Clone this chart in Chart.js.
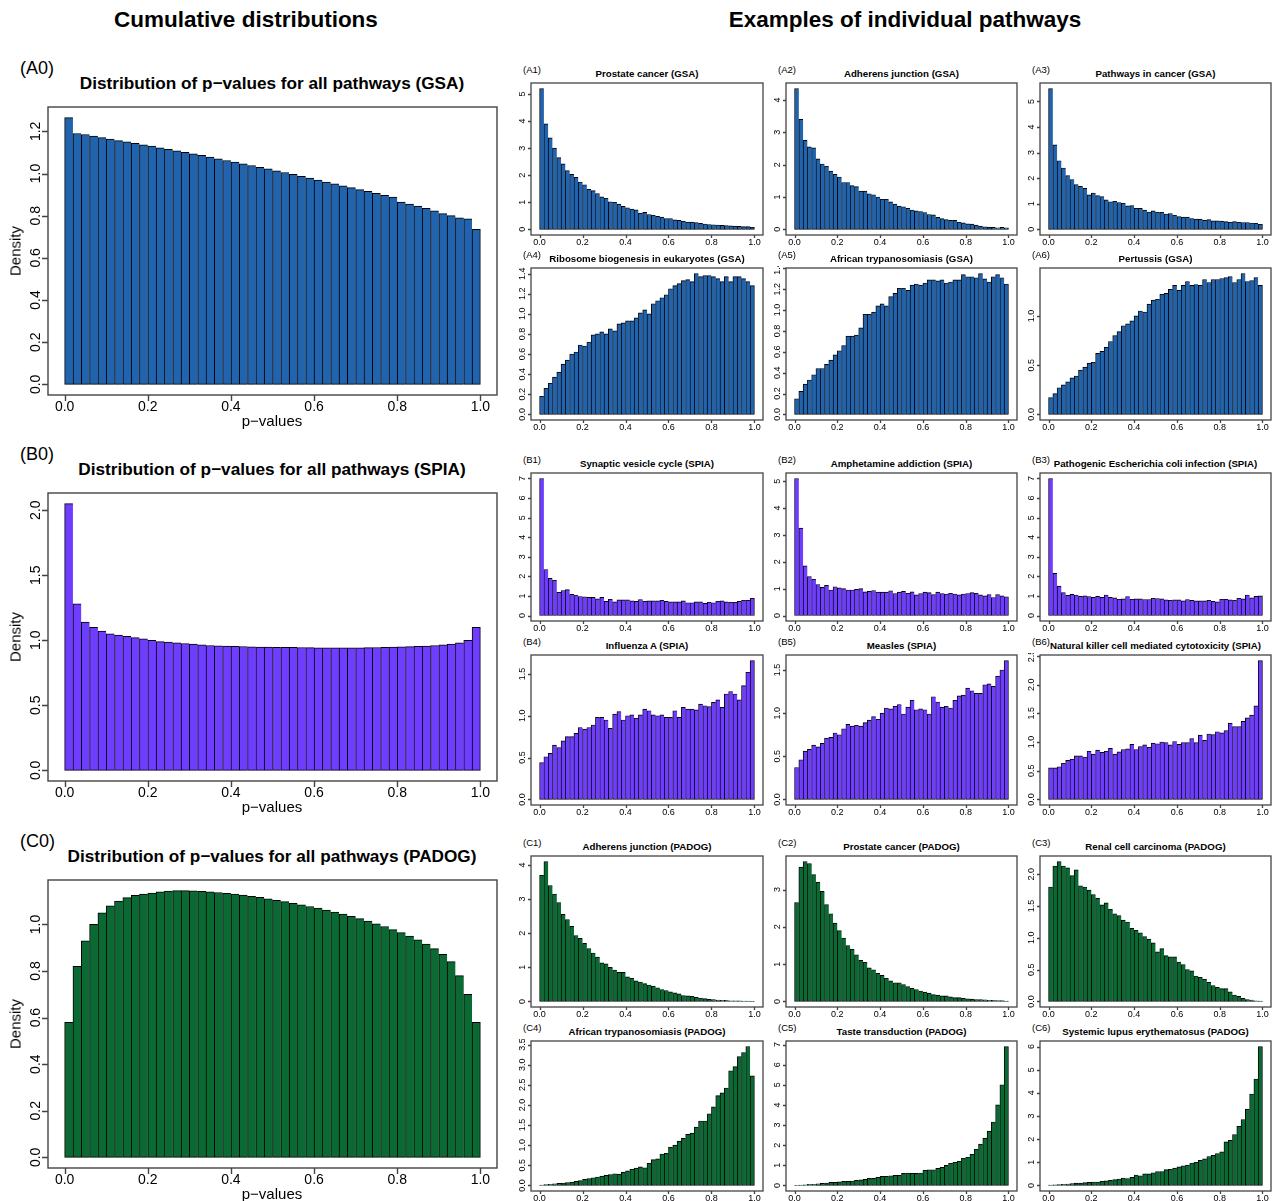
<!DOCTYPE html>
<html>
<head>
<meta charset="utf-8">
<script src="https://cdn.jsdelivr.net/npm/chart.js@4.4.1/dist/chart.umd.min.js"></script>
<style>
  body { margin: 0; background: #fff; width: 1273px; height: 1201px; position: relative; overflow: hidden;
         font-family: "Liberation Sans", Arial, Helvetica, sans-serif; }
  .t { position: absolute; white-space: nowrap; color: #000; transform: translate(-50%, -50%); }
  .b { font-weight: bold; }
  .l { position: absolute; white-space: nowrap; color: #000; transform: translateY(-50%); }
  .rot { transform: translate(-50%, -50%) rotate(-90deg); }
  canvas { position: absolute; }
</style>
</head>
<body>
<script>
// histogram bins (p-value bin mid points, width 0.02)
const binMids = [0.01,0.03,0.05,0.07,0.09,0.11,0.13,0.15,0.17,0.19,0.21,0.23,0.25,0.27,0.29,0.31,0.33,0.35,0.37,0.39,
                 0.41,0.43,0.45,0.47,0.49,0.51,0.53,0.55,0.57,0.59,0.61,0.63,0.65,0.67,0.69,0.71,0.73,0.75,0.77,0.79,
                 0.81,0.83,0.85,0.87,0.89,0.91,0.93,0.95,0.97,0.99];
const xTicks = [0, 0.2, 0.4, 0.6, 0.8, 1.0];

// cumulative distributions
const gsaAll = [1.265,1.19,1.185,1.178,1.17,1.163,1.156,1.15,1.143,1.136,
  1.13,1.122,1.115,1.108,1.1,1.093,1.086,1.078,1.07,1.062,
  1.054,1.046,1.038,1.03,1.022,1.013,1.005,0.996,0.987,0.978,
  0.969,0.96,0.951,0.942,0.933,0.924,0.915,0.906,0.897,0.888,
  0.865,0.855,0.845,0.835,0.823,0.81,0.8,0.79,0.785,0.735];
const spiaAll = [2.05,1.28,1.14,1.1,1.07,1.05,1.04,1.03,1.02,1.01,
  1.0,0.99,0.985,0.98,0.975,0.97,0.965,0.96,0.958,0.955,
  0.953,0.952,0.95,0.948,0.947,0.946,0.945,0.945,0.944,0.943,
  0.942,0.942,0.941,0.941,0.941,0.942,0.943,0.944,0.945,0.947,
  0.949,0.951,0.953,0.956,0.96,0.965,0.97,0.98,1.0,1.1];
const padogAll = [0.58,0.82,0.93,1.0,1.05,1.08,1.1,1.115,1.125,1.13,
  1.135,1.14,1.143,1.145,1.145,1.144,1.142,1.14,1.137,1.134,
  1.13,1.126,1.121,1.116,1.11,1.104,1.098,1.091,1.084,1.077,
  1.07,1.062,1.053,1.044,1.035,1.025,1.014,1.003,0.991,0.978,
  0.965,0.95,0.934,0.916,0.896,0.872,0.84,0.78,0.7,0.58];

// individual pathways, GSA
const gsaProstate = [5.2,3.9,3.38,3.0,2.65,2.42,2.17,2.03,1.92,1.75,
  1.65,1.48,1.43,1.32,1.2,1.15,1.02,1.0,0.93,0.85,
  0.8,0.75,0.72,0.6,0.63,0.55,0.52,0.48,0.45,0.4,
  0.4,0.35,0.33,0.3,0.27,0.27,0.25,0.22,0.2,0.18,
  0.17,0.16,0.15,0.14,0.13,0.12,0.11,0.1,0.1,0.08];
const gsaAdherens = [4.35,3.4,2.75,2.55,2.52,2.18,2.02,1.95,1.8,1.7,
  1.62,1.45,1.45,1.35,1.32,1.18,1.18,1.1,1.07,1.0,
  0.93,0.93,0.85,0.78,0.72,0.7,0.65,0.6,0.57,0.55,
  0.52,0.46,0.45,0.37,0.33,0.3,0.28,0.28,0.22,0.2,
  0.17,0.16,0.13,0.1,0.08,0.07,0.06,0.05,0.06,0.05];
const gsaPathways = [5.5,3.3,2.68,2.4,2.1,1.95,1.75,1.68,1.6,1.35,
  1.42,1.32,1.28,1.15,1.08,1.1,1.05,1.02,0.92,0.93,
  0.82,0.82,0.75,0.68,0.72,0.67,0.67,0.6,0.62,0.55,
  0.5,0.48,0.48,0.42,0.4,0.4,0.35,0.38,0.33,0.33,
  0.32,0.3,0.28,0.3,0.28,0.27,0.27,0.25,0.24,0.2];
const gsaRibosome = [0.18,0.26,0.31,0.37,0.42,0.5,0.54,0.6,0.62,0.69,
  0.68,0.72,0.79,0.8,0.82,0.8,0.85,0.83,0.9,0.91,
  0.93,0.93,0.96,1.01,1.04,1.0,1.1,1.13,1.16,1.19,
  1.25,1.28,1.3,1.33,1.34,1.32,1.4,1.37,1.38,1.38,
  1.37,1.35,1.32,1.37,1.32,1.37,1.37,1.35,1.32,1.28];
const gsaAfrican = [0.15,0.22,0.29,0.33,0.38,0.44,0.44,0.48,0.52,0.57,
  0.61,0.66,0.75,0.75,0.76,0.83,0.96,0.96,0.98,1.04,
  1.06,1.04,1.13,1.16,1.21,1.21,1.19,1.24,1.25,1.24,
  1.26,1.29,1.29,1.28,1.29,1.26,1.27,1.29,1.29,1.34,
  1.32,1.32,1.31,1.35,1.3,1.27,1.32,1.34,1.31,1.25];
const gsaPertussis = [0.17,0.21,0.27,0.3,0.33,0.37,0.39,0.45,0.48,0.52,
  0.53,0.62,0.64,0.68,0.74,0.8,0.84,0.9,0.92,0.95,
  1.0,1.05,1.04,1.12,1.16,1.17,1.22,1.23,1.27,1.31,
  1.26,1.31,1.35,1.31,1.32,1.31,1.37,1.34,1.37,1.37,
  1.38,1.39,1.4,1.34,1.37,1.43,1.35,1.36,1.39,1.31];

// individual pathways, SPIA
const spiaSynaptic = [7.0,2.35,1.9,1.8,1.18,1.28,1.32,1.08,1.05,0.97,
  0.96,0.93,0.93,0.85,0.93,0.72,0.83,0.7,0.8,0.8,
  0.8,0.75,0.72,0.82,0.73,0.75,0.75,0.75,0.78,0.72,
  0.7,0.7,0.7,0.75,0.65,0.65,0.7,0.7,0.62,0.68,
  0.65,0.73,0.75,0.7,0.68,0.68,0.72,0.78,0.78,0.88];
const spiaAmphetamine = [5.1,3.25,1.85,1.45,1.35,1.15,1.05,1.12,0.95,1.07,
  1.03,1.0,0.95,0.95,0.97,1.0,0.88,0.9,0.93,0.87,
  0.87,0.87,0.92,0.82,0.87,0.9,0.83,0.88,0.77,0.82,
  0.87,0.85,0.78,0.87,0.82,0.8,0.83,0.8,0.77,0.8,
  0.82,0.85,0.83,0.77,0.73,0.78,0.67,0.78,0.73,0.7];
const spiaEcoli = [7.0,2.15,1.5,1.17,1.03,1.08,1.05,0.98,1.0,0.97,
  0.93,0.98,0.93,1.05,0.93,0.9,0.83,0.85,0.97,0.83,
  0.85,0.85,0.82,0.82,0.88,0.87,0.85,0.8,0.78,0.8,
  0.8,0.75,0.82,0.77,0.75,0.75,0.75,0.78,0.72,0.7,
  0.83,0.83,0.8,0.78,0.88,0.85,1.05,0.9,0.98,1.0];
const spiaInfluenza = [0.44,0.51,0.55,0.65,0.62,0.7,0.75,0.75,0.79,0.86,
  0.84,0.86,0.89,0.98,0.98,0.95,0.85,1.02,1.05,0.95,
  1.0,1.01,0.97,1.01,1.08,1.06,1.01,1.0,1.01,0.98,
  0.98,1.06,0.98,1.1,1.08,1.08,1.07,1.14,1.12,1.11,
  1.16,1.19,1.1,1.26,1.29,1.26,1.19,1.36,1.52,1.66];
const spiaMeasles = [0.37,0.46,0.56,0.58,0.63,0.61,0.65,0.71,0.72,0.77,
  0.75,0.82,0.87,0.85,0.86,0.85,0.89,0.92,0.96,0.93,
  1.0,1.06,1.05,1.08,1.1,0.99,1.07,1.15,1.04,1.05,
  1.04,0.99,1.19,1.13,1.07,1.08,1.06,1.15,1.2,1.21,
  1.29,1.26,1.23,1.23,1.33,1.34,1.31,1.43,1.5,1.61];
const spiaNK = [0.55,0.55,0.57,0.63,0.68,0.7,0.76,0.76,0.74,0.84,
  0.79,0.86,0.82,0.84,0.89,0.79,0.83,0.87,0.88,0.96,
  0.87,0.92,0.95,0.91,0.98,0.97,1.0,0.99,0.95,1.01,
  0.96,0.99,0.99,1.06,0.99,1.12,1.03,1.14,1.13,1.18,
  1.16,1.2,1.33,1.27,1.27,1.36,1.42,1.47,1.63,2.42];

// individual pathways, PADOG
const padogAdherens = [3.7,4.1,3.4,3.15,2.9,2.55,2.4,2.2,1.93,1.85,
  1.7,1.55,1.42,1.3,1.13,1.1,1.0,0.92,0.85,0.85,
  0.72,0.68,0.6,0.57,0.52,0.48,0.45,0.4,0.35,0.32,
  0.28,0.25,0.22,0.17,0.16,0.15,0.12,0.1,0.08,0.06,
  0.05,0.04,0.03,0.03,0.02,0.02,0.015,0.01,0.01,0.005];
const padogProstate = [2.65,3.6,3.75,3.7,3.4,3.2,2.95,2.6,2.35,2.1,
  1.9,1.7,1.5,1.4,1.25,1.1,1.05,0.9,0.85,0.75,
  0.7,0.62,0.55,0.5,0.5,0.45,0.4,0.35,0.32,0.28,
  0.25,0.22,0.18,0.17,0.15,0.15,0.12,0.1,0.1,0.08,
  0.07,0.06,0.05,0.05,0.04,0.03,0.03,0.02,0.02,0.01];
const padogRenal = [1.8,2.13,2.2,2.13,2.1,1.98,2.07,1.82,1.8,1.75,
  1.68,1.62,1.52,1.55,1.45,1.38,1.35,1.28,1.25,1.15,
  1.12,1.08,1.02,0.98,0.92,0.78,0.83,0.72,0.7,0.7,
  0.62,0.58,0.5,0.48,0.4,0.38,0.35,0.3,0.25,0.22,
  0.2,0.2,0.15,0.1,0.08,0.05,0.03,0.02,0.01,0.005];
const padogAfrican = [0.01,0.02,0.03,0.04,0.05,0.06,0.07,0.08,0.1,0.12,
  0.15,0.17,0.19,0.21,0.23,0.25,0.27,0.29,0.28,0.33,
  0.36,0.4,0.43,0.46,0.44,0.55,0.64,0.66,0.78,0.8,
  0.95,1.0,1.1,1.17,1.27,1.3,1.45,1.6,1.6,1.78,
  1.95,2.23,2.3,2.42,2.85,2.95,3.2,3.3,3.45,2.72];
const padogTaste = [0.01,0.02,0.03,0.05,0.06,0.08,0.1,0.12,0.15,0.15,
  0.18,0.2,0.2,0.22,0.25,0.28,0.3,0.35,0.35,0.4,
  0.45,0.45,0.48,0.5,0.5,0.6,0.62,0.6,0.6,0.62,
  0.75,0.78,0.78,0.85,0.9,1.0,1.1,1.15,1.2,1.35,
  1.4,1.55,1.8,2.05,2.35,2.7,3.15,4.0,5.0,6.9];
const padogLupus = [0.02,0.03,0.04,0.05,0.06,0.08,0.1,0.1,0.12,0.13,
  0.15,0.15,0.18,0.2,0.22,0.25,0.28,0.32,0.3,0.35,
  0.45,0.42,0.5,0.5,0.55,0.6,0.6,0.68,0.7,0.75,
  0.8,0.85,0.88,0.97,1.0,1.08,1.15,1.25,1.3,1.38,
  1.45,1.88,1.95,2.2,2.55,2.85,3.3,3.95,4.6,6.0];

const GSA_COL = '#2163ad', SPIA_COL = '#6f3dff', PADOG_COL = '#0b6a34';

// small panel boxes: columns and rows (plot region in page pixels)
const cols = [[531, 763], [786, 1017], [1040, 1271]];
const rows = [[83, 235], [268, 420], [473, 621], [655, 805], [856, 1007], [1041, 1191]];

const panels = [
  { tag: '(A0)', title: 'Distribution of p\u2212values for all pathways (GSA)', data: gsaAll, color: GSA_COL,
    yTicks: [0,0.2,0.4,0.6,0.8,1.0,1.2], box: [48, 107, 497, 395], big: true },
  { tag: '(B0)', title: 'Distribution of p\u2212values for all pathways (SPIA)', data: spiaAll, color: SPIA_COL,
    yTicks: [0,0.5,1.0,1.5,2.0], box: [48, 493, 497, 781], big: true },
  { tag: '(C0)', title: 'Distribution of p\u2212values for all pathways (PADOG)', data: padogAll, color: PADOG_COL,
    yTicks: [0,0.2,0.4,0.6,0.8,1.0], box: [48, 880, 497, 1168], big: true },

  { tag: '(A1)', title: 'Prostate cancer (GSA)', data: gsaProstate, color: GSA_COL, yTicks: [0,1,2,3,4,5], c: 0, r: 0 },
  { tag: '(A2)', title: 'Adherens junction (GSA)', data: gsaAdherens, color: GSA_COL, yTicks: [0,1,2,3,4], c: 1, r: 0 },
  { tag: '(A3)', title: 'Pathways in cancer (GSA)', data: gsaPathways, color: GSA_COL, yTicks: [0,1,2,3,4,5], c: 2, r: 0 },
  { tag: '(A4)', title: 'Ribosome biogenesis in eukaryotes (GSA)', data: gsaRibosome, color: GSA_COL, yTicks: [0,0.2,0.4,0.6,0.8,1.0,1.2,1.4], c: 0, r: 1 },
  { tag: '(A5)', title: 'African trypanosomiasis (GSA)', data: gsaAfrican, color: GSA_COL, yTicks: [0,0.2,0.4,0.6,0.8,1.0,1.2,1.4], c: 1, r: 1 },
  { tag: '(A6)', title: 'Pertussis (GSA)', data: gsaPertussis, color: GSA_COL, yTicks: [0,0.5,1.0], c: 2, r: 1 },

  { tag: '(B1)', title: 'Synaptic vesicle cycle (SPIA)', data: spiaSynaptic, color: SPIA_COL, yTicks: [0,1,2,3,4,5,6,7], c: 0, r: 2 },
  { tag: '(B2)', title: 'Amphetamine addiction (SPIA)', data: spiaAmphetamine, color: SPIA_COL, yTicks: [0,1,2,3,4,5], c: 1, r: 2 },
  { tag: '(B3)', title: 'Pathogenic Escherichia coli infection (SPIA)', data: spiaEcoli, color: SPIA_COL, yTicks: [0,1,2,3,4,5,6,7], c: 2, r: 2 },
  { tag: '(B4)', title: 'Influenza A (SPIA)', data: spiaInfluenza, color: SPIA_COL, yTicks: [0,0.5,1.0,1.5], c: 0, r: 3 },
  { tag: '(B5)', title: 'Measles (SPIA)', data: spiaMeasles, color: SPIA_COL, yTicks: [0,0.5,1.0,1.5], c: 1, r: 3 },
  { tag: '(B6)', title: 'Natural killer cell mediated cytotoxicity (SPIA)', data: spiaNK, color: SPIA_COL, yTicks: [0,0.5,1.0,1.5,2.0,2.5], c: 2, r: 3 },

  { tag: '(C1)', title: 'Adherens junction (PADOG)', data: padogAdherens, color: PADOG_COL, yTicks: [0,1,2,3,4], c: 0, r: 4 },
  { tag: '(C2)', title: 'Prostate cancer (PADOG)', data: padogProstate, color: PADOG_COL, yTicks: [0,1,2,3], c: 1, r: 4 },
  { tag: '(C3)', title: 'Renal cell carcinoma (PADOG)', data: padogRenal, color: PADOG_COL, yTicks: [0,0.5,1.0,1.5,2.0], c: 2, r: 4 },
  { tag: '(C4)', title: 'African trypanosomiasis (PADOG)', data: padogAfrican, color: PADOG_COL, yTicks: [0,0.5,1.0,1.5,2.0,2.5,3.0,3.5], c: 0, r: 5 },
  { tag: '(C5)', title: 'Taste transduction (PADOG)', data: padogTaste, color: PADOG_COL, yTicks: [0,1,2,3,4,5,6,7], c: 1, r: 5 },
  { tag: '(C6)', title: 'Systemic lupus erythematosus (PADOG)', data: padogLupus, color: PADOG_COL, yTicks: [0,1,2,3,4,5,6], c: 2, r: 5 }
];

// R-like box, tick marks and rotated y labels, placed by the chart scales
const rAxes = {
  id: 'rAxes',
  afterDraw(chart, args, o) {
    const ctx = chart.ctx, a = chart.chartArea, x = chart.scales.x, y = chart.scales.y;
    ctx.save();
    ctx.strokeStyle = '#444';
    ctx.lineWidth = o.lw;
    ctx.strokeRect(a.left, a.top, a.right - a.left, a.bottom - a.top);
    ctx.beginPath();
    xTicks.forEach(v => {
      const px = Math.round(x.getPixelForValue(v)) + 0.5;
      ctx.moveTo(px, a.bottom); ctx.lineTo(px, a.bottom + o.tick);
    });
    o.yTicks.forEach(v => {
      const py = Math.round(y.getPixelForValue(v)) + 0.5;
      ctx.moveTo(a.left, py); ctx.lineTo(a.left - o.tick, py);
    });
    ctx.stroke();
    ctx.fillStyle = '#000';
    ctx.font = o.font + 'px "Liberation Sans", Arial, sans-serif';
    ctx.textAlign = 'center';
    ctx.textBaseline = 'middle';
    xTicks.forEach(v => ctx.fillText(v.toFixed(1), x.getPixelForValue(v), a.bottom + o.gap));
    const dec = o.yTicks.some(v => v % 1 !== 0);
    o.yTicks.forEach(v => {
      ctx.save();
      ctx.translate(a.left - o.gap, y.getPixelForValue(v));
      ctx.rotate(-Math.PI / 2);
      ctx.fillText(dec ? v.toFixed(1) : String(v), 0, 0);
      ctx.restore();
    });
    ctx.restore();
  }
};

function addText(txt, x, y, size, cls) {
  const d = document.createElement('div');
  d.className = cls;
  d.style.left = x + 'px';
  d.style.top = y + 'px';
  d.style.fontSize = size + 'px';
  d.textContent = txt;
  document.body.appendChild(d);
}

addText('Cumulative distributions', 246, 20, 22.5, 't b');
addText('Examples of individual pathways', 905, 20, 22.5, 't b');

panels.forEach(p => {
  const box = p.big ? p.box : [cols[p.c][0], rows[p.r][0], cols[p.c][1], rows[p.r][1]];
  const m = p.big ? { l: 46, r: 4, t: 4, b: 34 } : { l: 16, r: 2, t: 2, b: 14 };
  const cv = document.createElement('canvas');
  const w = box[2] - box[0] + m.l + m.r, h = box[3] - box[1] + m.t + m.b;
  cv.width = w; cv.height = h;
  cv.style.left = (box[0] - m.l) + 'px';
  cv.style.top = (box[1] - m.t) + 'px';
  cv.style.width = w + 'px'; cv.style.height = h + 'px';
  document.body.appendChild(cv);

  const ymax = Math.max(...p.data);
  const last = p.data.length - 1;
  const bw = p.big ? 1 : 0.9;
  new Chart(cv, {
    type: 'bar',
    data: {
      datasets: [{
        data: binMids.map((v, i) => ({ x: v, y: p.data[i] })),
        backgroundColor: p.color,
        borderColor: '#000',
        borderWidth: ctx => ctx.dataIndex === last
          ? { left: bw, top: bw, bottom: bw, right: bw }
          : { left: bw, top: bw, bottom: bw, right: 0 },
        borderSkipped: false,
        barPercentage: 1,
        categoryPercentage: 1
      }]
    },
    options: {
      responsive: false,
      animation: false,
      devicePixelRatio: 1,
      layout: { padding: { left: m.l, right: m.r, top: m.t, bottom: m.b } },
      scales: {
        x: { type: 'linear', min: -0.04, max: 1.04, offset: false, display: false },
        y: { min: -0.04 * ymax, max: 1.04 * ymax, display: false }
      },
      plugins: {
        legend: { display: false },
        tooltip: { enabled: false },
        rAxes: p.big
          ? { yTicks: p.yTicks, font: 14, gap: 12, tick: 6, lw: 1.4 }
          : { yTicks: p.yTicks, font: 9, gap: 8, tick: 3, lw: 1.3 }
      }
    },
    plugins: [rAxes]
  });

  if (p.big) {
    addText(p.tag, 20, box[1] - 39, 18, 'l');
    addText(p.title, 272, box[1] - 24, 17.2, 't b');
    addText('p\u2212values', 272, box[3] + 25, 15, 't');
    addText('Density', 15, (box[1] + box[3]) / 2, 15, 't rot');
  } else {
    addText(p.tag, box[0] - 8, box[1] - 14, 9.5, 'l');
    addText(p.title, (box[0] + box[2]) / 2, box[1] - 10, 9.7, 't b');
  }
});
</script>
</body>
</html>
